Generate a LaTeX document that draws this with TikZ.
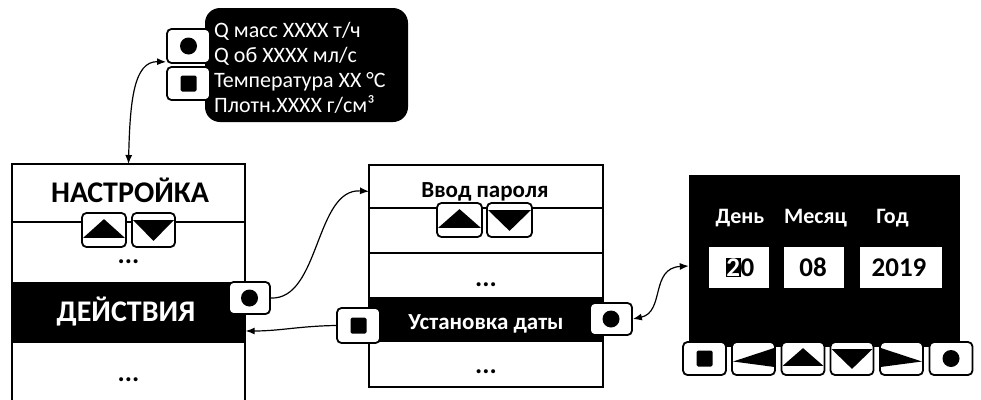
\documentclass[tikz,border=0pt]{standalone}
\usepackage{fontspec}
\setmainfont{Carlito}
\usetikzlibrary{arrows.meta,calc}
\newcommand\glyphUp[1]{\fill ($(#1.south west)+(2,-10)$) -- ($(#1.south east)+(-2,-10)$) -- ($(#1.north)+(0,7)$) -- cycle;}
\newcommand\glyphDown[1]{\fill ($(#1.north west)+(2,8)$) -- ($(#1.north east)+(-2,8)$) -- ($(#1.south)+(0,-7)$) -- cycle;}
\newcommand\glyphLeft[1]{\fill ($(#1.north east)+(-2,7)$) -- ($(#1.south east)+(-2,-9)$) -- ($(#1.west)+(2,3)$) -- cycle;}
\newcommand\glyphRight[1]{\fill ($(#1.north west)+(2,7)$) -- ($(#1.south west)+(2,-9)$) -- ($(#1.east)+(-2,3)$) -- cycle;}
\newcommand\glyphCirc[1]{\fill (#1.center) circle[radius=8.5pt];}
\newcommand\glyphSq[1]{\fill[rounded corners=1.5pt] ($(#1.center)+(-8,-8)$) rectangle ($(#1.center)+(8,8)$);}
\begin{document}
\begin{tikzpicture}[x=1pt,y=-1pt,
  box/.style={draw, line width=1.3pt, inner sep=0pt, outer sep=0pt},
  band/.style={fill=black, inner sep=0pt, outer sep=0pt},
  divline/.style={line width=1.3pt},
  btn/.style={draw, fill=white, line width=1.8pt, rounded corners=4.5pt, inner sep=0pt, minimum width=43pt, minimum height=34pt},
  big/.style={font=\bfseries\fontsize{30}{34}\selectfont, inner sep=0pt},
  mid/.style={font=\bfseries\fontsize{23}{27}\selectfont, inner sep=0pt},
  lab/.style={font=\bfseries\fontsize{22}{26}\selectfont, inner sep=0pt},
  dots/.style={font=\bfseries\fontsize{27}{30}\selectfont, inner sep=0pt},
  toptext/.style={font=\fontsize{22}{25}\selectfont, text=white, inner sep=0pt},
  digits/.style={font=\bfseries\fontsize{27}{30}\selectfont, inner sep=0pt},
  arr/.style={line width=1.2pt, -{Latex[length=9pt,width=7pt]}},
  darr/.style={line width=1.2pt, {Latex[length=9pt,width=7pt]}-{Latex[length=9pt,width=7pt]}}]
\useasboundingbox (0,0) rectangle (981,399);
\clip (0,0) rectangle (981,399);
% top info box
\node[fill=black, rounded corners=15pt, minimum width=203pt, minimum height=114pt, inner sep=0pt] (topbox) at (306.5,65) {};
\node[toptext, anchor=base west] (t1) at (214,37) {Q масс XXXX т/ч};
\node[toptext, anchor=base west] (t2) at (214,62) {Q об XXXX мл/с};
\node[toptext, anchor=base west] (t3) at (214,87) {Температура XX °C};
\node[toptext, anchor=base west] (t4) at (214,112) {Плотн.XXXX г/см³};
% left menu
\node[box, minimum width=233pt, minimum height=262pt] (menu1) at (128.5,295) {};
\draw[divline] (menu1.west |- 0,222) -- (menu1.east |- 0,222);
\node[band, minimum width=234.3pt, minimum height=61pt] (band1) at (128.5,312.5) {};
\node[big, anchor=base] (nastr) at (130,202) {НАСТРОЙКА};
\node[big, anchor=base, text=white] (deistv) at (126,321) {ДЕЙСТВИЯ};
\node[dots, anchor=base] (ld1) at (128.5,263) {...};
\node[dots, anchor=base] (ld2) at (128.5,381) {...};
% middle menu
\node[box, minimum width=234pt, minimum height=222pt] (menu2) at (486,276) {};
\draw[divline] (menu2.west |- 0,208) -- (menu2.east |- 0,208);
\draw[divline] (menu2.west |- 0,253) -- (menu2.east |- 0,253);
\node[band, minimum width=235.3pt, minimum height=45pt] (band2) at (486,319.5) {};
\node[mid, anchor=base] (vvod) at (485,197) {Ввод пароля};
\node[mid, anchor=base, text=white] (ustan) at (486,329) {Установка даты};
\node[dots, anchor=base] (md1) at (486,286) {...};
\node[dots, anchor=base] (md2) at (486,373) {...};
% right panel
\node[fill=black, minimum width=271pt, minimum height=172pt, inner sep=0pt] (panel) at (824.5,261) {};
\node[fill=white, minimum width=60pt, minimum height=41pt, inner sep=0pt] (f1) at (738.5,267.5) {};
\node[fill=white, minimum width=60pt, minimum height=41pt, inner sep=0pt] (f2) at (813.5,267.5) {};
\node[fill=white, minimum width=82pt, minimum height=41pt, inner sep=0pt] (f3) at (901,267.5) {};
\node[lab, anchor=base, text=white] (lday) at (740,223) {День};
\node[lab, anchor=base, text=white] (lmon) at (815.5,223) {Месяц};
\node[lab, anchor=base, text=white] (lyear) at (892.5,223) {Год};
\node[digits, anchor=base] (vday) at (740,276) {\setlength\fboxsep{0.5pt}\colorbox{black}{\textcolor{white}{2}}0};
\node[digits, anchor=base] (vmon) at (813,276) {08};
\node[digits, anchor=base] (vyear) at (899,276) {2019};
% buttons
\node[btn] (tc) at (188.5,46) {};
\node[btn, minimum height=33pt] (ts) at (188.5,83.5) {};
\node[btn, minimum width=44pt] (lu) at (104,230) {};
\node[btn] (ld) at (153.5,230) {};
\node[btn, minimum width=41pt, minimum height=32pt] (lc) at (249.5,298) {};
\node[btn, minimum width=45pt] (mu) at (459.5,220) {};
\node[btn, minimum width=45pt] (md) at (509.5,220) {};
\node[btn, minimum height=35pt] (ms) at (358.5,325.5) {};
\node[btn, minimum width=42pt, minimum height=32pt] (mc) at (611,319) {};
\node[btn, minimum height=33pt] (b1) at (704.5,358.5) {};
\node[btn, minimum height=33pt] (b2) at (753.5,358.5) {};
\node[btn, minimum height=33pt] (b3) at (803,358.5) {};
\node[btn, minimum height=33pt] (b4) at (852,358.5) {};
\node[btn, minimum height=33pt] (b5) at (901.5,358.5) {};
\node[btn, minimum height=33pt] (b6) at (951,358.5) {};
% glyphs
\glyphCirc{tc}
\glyphSq{ts}
\glyphUp{lu}
\glyphDown{ld}
\glyphCirc{lc}
\glyphUp{mu}
\glyphDown{md}
\glyphSq{ms}
\glyphCirc{mc}
\glyphSq{b1}
\glyphLeft{b2}
\glyphUp{b3}
\glyphDown{b4}
\glyphRight{b5}
\glyphCirc{b6}
% connectors
\draw[darr] (menu1.north) .. controls (130,100) and (134,61) .. ([yshift=2pt]tc.south west);
\draw[arr] (lc.east) .. controls (320,300) and (315,188) .. (menu2.west |- vvod);
\draw[arr] (ms.west) .. controls (300,326) and (280,331) .. ([yshift=-18.5pt]band1.east);
\draw[darr] (mc.east) .. controls (665,312) and (650,268) .. ([yshift=-5pt]panel.west);
\end{tikzpicture}
\end{document}
